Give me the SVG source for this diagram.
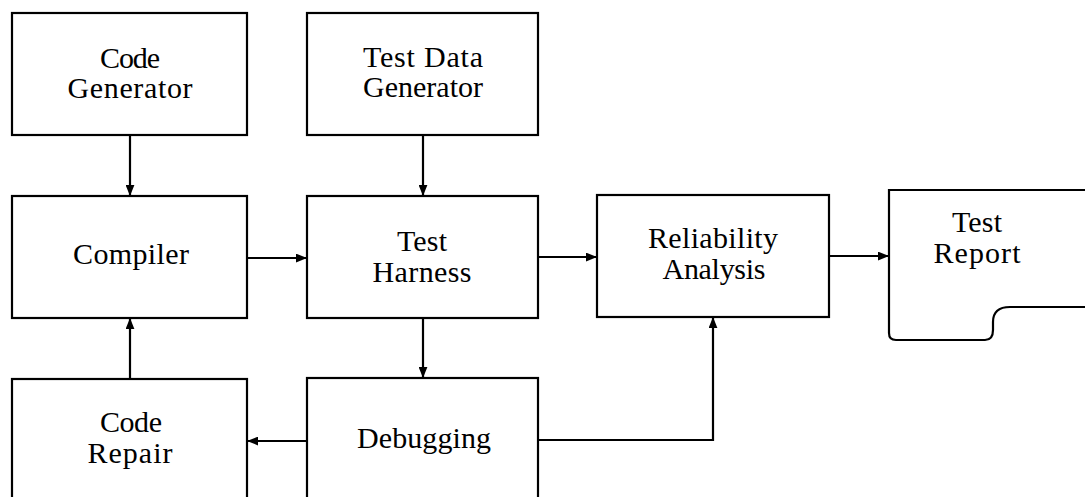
<svg xmlns="http://www.w3.org/2000/svg" width="1085" height="497" viewBox="0 0 1085 497">
<style>
.box{fill:#fff;stroke:#000;stroke-width:2.2}
.t{font-family:"Liberation Serif","Times New Roman",serif;font-size:30px;fill:#000;text-anchor:middle}
.c{fill:none;stroke:#000;stroke-width:2.2}
</style>
<defs>
<marker id="ah" viewBox="0 0 10 8" refX="10" refY="4" markerWidth="11" markerHeight="9" markerUnits="userSpaceOnUse" orient="auto">
<path d="M0,0 L10,4 L0,8 Z" fill="#000"/>
</marker>
</defs>
<rect width="1085" height="497" fill="#fff"/>
<g id="code-generator">
<rect class="box" x="12" y="13" width="235" height="122"/>
<text class="t" x="130" y="68" textLength="60" lengthAdjust="spacing">Code</text>
<text class="t" x="130" y="98" textLength="125" lengthAdjust="spacing">Generator</text>
</g>
<g id="test-data-generator">
<rect class="box" x="307" y="13" width="231" height="122"/>
<text class="t" x="423" y="67" textLength="120" lengthAdjust="spacing">Test Data</text>
<text class="t" x="423" y="97" textLength="120" lengthAdjust="spacing">Generator</text>
</g>
<g id="compiler">
<rect class="box" x="12" y="196" width="235" height="122"/>
<text class="t" x="131" y="264" textLength="116" lengthAdjust="spacing">Compiler</text>
</g>
<g id="test-harness">
<rect class="box" x="307" y="196" width="231" height="122"/>
<text class="t" x="422" y="251" textLength="50" lengthAdjust="spacing">Test</text>
<text class="t" x="422" y="282" textLength="99" lengthAdjust="spacing">Harness</text>
</g>
<g id="reliability-analysis">
<rect class="box" x="597" y="195" width="232" height="122"/>
<text class="t" x="713" y="248" textLength="130" lengthAdjust="spacing">Reliability</text>
<text class="t" x="714" y="279" textLength="103" lengthAdjust="spacing">Analysis</text>
</g>
<g id="test-report">
<path class="box" d="M1090,190 H889 V333 Q889,340 896,340 H985 Q993,340 993,330 V322 Q993,307 1010,307 H1090"/>
<text class="t" x="977" y="232" textLength="50" lengthAdjust="spacing">Test</text>
<text class="t" x="977" y="263" textLength="87" lengthAdjust="spacing">Report</text>
</g>
<g id="code-repair">
<rect class="box" x="12" y="379" width="235" height="130"/>
<text class="t" x="131" y="432" textLength="62" lengthAdjust="spacing">Code</text>
<text class="t" x="130" y="463" textLength="85" lengthAdjust="spacing">Repair</text>
</g>
<g id="debugging">
<rect class="box" x="307" y="378" width="231" height="131"/>
<text class="t" x="424" y="448" textLength="134" lengthAdjust="spacing">Debugging</text>
</g>
<g id="connectors">
<line class="c" x1="130" y1="135" x2="130" y2="196" marker-end="url(#ah)"/>
<line class="c" x1="423" y1="135" x2="423" y2="196" marker-end="url(#ah)"/>
<line class="c" x1="247" y1="258" x2="307" y2="258" marker-end="url(#ah)"/>
<line class="c" x1="538" y1="257" x2="597" y2="257" marker-end="url(#ah)"/>
<line class="c" x1="829" y1="256" x2="889" y2="256" marker-end="url(#ah)"/>
<line class="c" x1="423" y1="318" x2="423" y2="378" marker-end="url(#ah)"/>
<line class="c" x1="307" y1="441" x2="247" y2="441" marker-end="url(#ah)"/>
<line class="c" x1="130" y1="379" x2="130" y2="318" marker-end="url(#ah)"/>
<polyline class="c" points="538,440 713,440 713,317" marker-end="url(#ah)"/>
</g>
</svg>
